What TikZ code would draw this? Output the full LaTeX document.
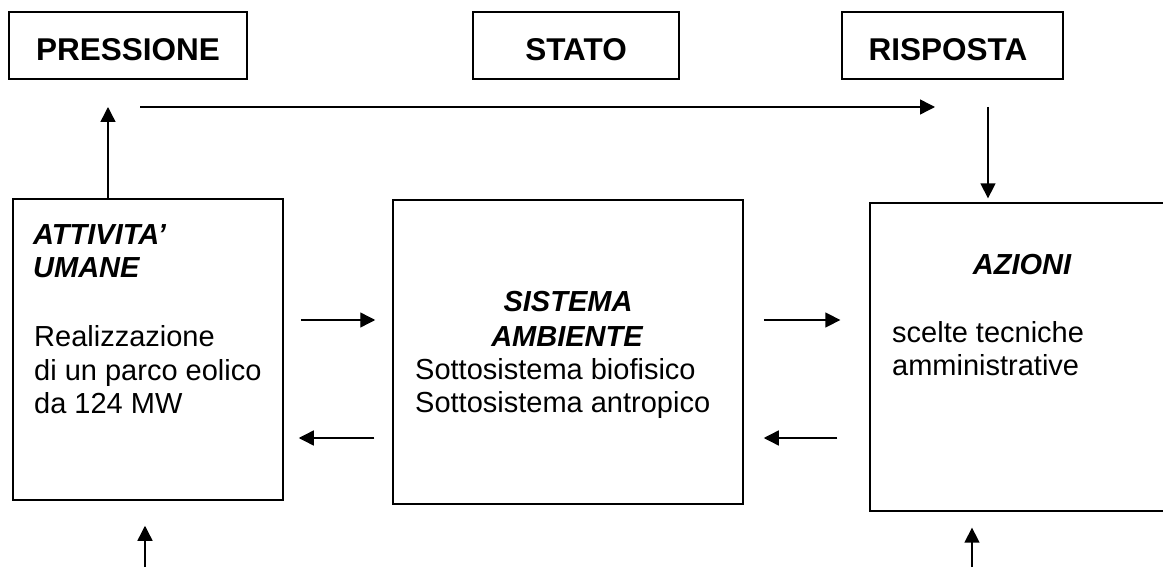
\documentclass[tikz,border=0pt]{standalone}
\usepackage{fontspec}
\setmainfont{Liberation Sans}
\usetikzlibrary{arrows.meta}
\begin{document}
\begin{tikzpicture}[x=1pt,y=-1pt,
  topbox/.style={draw, line width=1.8pt, inner sep=0pt},
  bigbox/.style={draw, line width=1.5pt, inner sep=0pt},
  arr/.style={line width=1.4pt, -{Triangle[length=15pt,width=15pt]}},
  toplabel/.style={inner sep=0pt, anchor=base, font=\fontsize{31.5}{36}\selectfont\bfseries},
  head/.style={inner sep=0pt, font=\fontsize{29}{33}\selectfont\bfseries\itshape},
  body/.style={inner sep=0pt, anchor=base west, font=\fontsize{29}{33}\selectfont},
]
\useasboundingbox (0,0) rectangle (1163,572);
\clip (0,0) rectangle (1163,572);

% top boxes
\node[topbox, minimum width=238pt, minimum height=67pt] (press) at (128,45.5) {};
\node[topbox, minimum width=206pt, minimum height=67pt] (stato) at (576,45.5) {};
\node[topbox, minimum width=221pt, minimum height=67pt] (risp) at (952.5,45.5) {};
\node[toplabel] (tpress) at (128,61) {PRESSIONE};
\node[toplabel] (tstato) at (576,61) {STATO};
\node[toplabel] (trisp) at (948,61) {RISPOSTA};

% main boxes
\node[bigbox, minimum width=270pt, minimum height=301pt] (act) at (148,349.5) {};
\node[bigbox, minimum width=350pt, minimum height=304pt] (sys) at (568,352) {};
\node[bigbox, line width=1.3pt, minimum width=305pt, minimum height=308pt] (azi) at (1022.5,357) {};

% texts of left box
\node[head, anchor=base west] (h1) at (33,245) {ATTIVITA’};
\node[head, anchor=base west] (h2) at (33,278) {UMANE};
\node[body] (b1) at (34,347) {Realizzazione};
\node[body] (b2) at (34,380) {di un parco eolico};
\node[body] (b3) at (34,413) {da 124 MW};

% texts of middle box
\node[head, anchor=base] (s1) at (568,312) {SISTEMA};
\node[head, anchor=base] (s2) at (567,346) {AMBIENTE};
\node[body] (s3) at (415,379) {Sottosistema biofisico};
\node[body] (s4) at (415,412) {Sottosistema antropico};

% texts of right box
\node[head, anchor=base] (a1) at (1022,275) {AZIONI};
\node[body] (a2) at (892,342) {scelte tecniche};
\node[body] (a3) at (892,375) {amministrative};

% free ends
\coordinate (upend) at (108,107);
\coordinate (hstart) at (140,107);
\coordinate (hend) at (935,107);
\coordinate (dstart) at (988,107);
\coordinate (rowA) at (0,320);
\coordinate (rowB) at (0,438);
\coordinate (botL) at (145,567);
\coordinate (botR) at (972,567);

% connectors
\draw[arr] (act.north -| upend) -- (upend);
\draw[arr] (hstart) -- (hend);
\draw[arr, shorten >=4pt] (dstart) -- (azi.north -| dstart);
\draw[arr, shorten <=17pt, shorten >=17pt] (act.east |- rowA) -- (sys.west |- rowA);
\draw[arr, shorten <=18pt, shorten >=15pt] (sys.west |- rowB) -- (act.east |- rowB);
\draw[arr, shorten <=20pt, shorten >=29pt] (sys.east |- rowA) -- (azi.west |- rowA);
\draw[arr, shorten <=32pt, shorten >=20pt] (azi.west |- rowB) -- (sys.east |- rowB);
\draw[arr, shorten >=25pt] (botL) -- (act.south -| botL);
\draw[arr, shorten >=16pt] (botR) -- (azi.south -| botR);
\end{tikzpicture}
\end{document}
